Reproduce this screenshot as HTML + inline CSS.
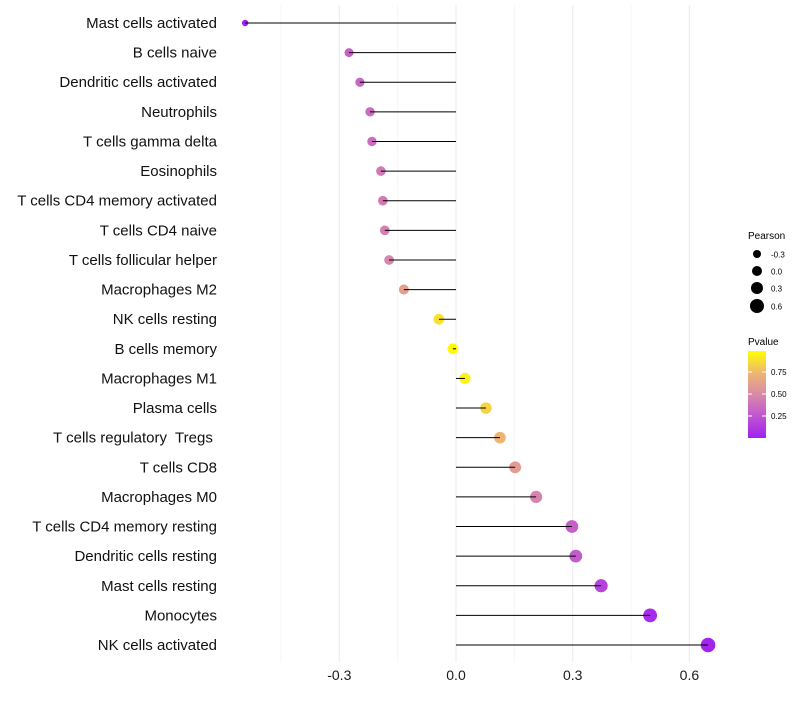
<!DOCTYPE html>
<html><head><meta charset="utf-8"><style>body{margin:0;background:#fff}svg{font-family:"Liberation Sans",sans-serif}</style></head>
<body>
<svg id="chart" width="800" height="700" xmlns="http://www.w3.org/2000/svg">
<defs><linearGradient id="pg" x1="0" y1="1" x2="0" y2="0">
<stop offset="0" stop-color="#a020f0"/><stop offset="0.25" stop-color="#c055d0"/><stop offset="0.5" stop-color="#d98aa8"/><stop offset="0.75" stop-color="#efb672"/><stop offset="1" stop-color="#ffff00"/></linearGradient></defs>
<g id="grid"></g><g id="points"></g><g id="marks"></g><g id="labels"></g>
<g>
<text x="748" y="239" font-size="10">Pearson</text>
<circle cx="757" cy="254" r="4" fill="#000"/><text x="771" y="257.5" font-size="8">-0.3</text>
<circle cx="757" cy="271" r="5" fill="#000"/><text x="771" y="274.5" font-size="8">0.0</text>
<circle cx="757" cy="288" r="6" fill="#000"/><text x="771" y="291.5" font-size="8">0.3</text>
<circle cx="757" cy="306" r="7" fill="#000"/><text x="771" y="309.5" font-size="8">0.6</text>
</g>
<g>
<text x="748" y="345" font-size="10">Pvalue</text>
<rect x="748" y="351" width="18" height="87" fill="url(#pg)"/>
<line x1="748" x2="752" y1="372" y2="372" stroke="#fff"/><line x1="762" x2="766" y1="372" y2="372" stroke="#fff"/>
<line x1="748" x2="752" y1="394" y2="394" stroke="#fff"/><line x1="762" x2="766" y1="394" y2="394" stroke="#fff"/>
<line x1="748" x2="752" y1="416" y2="416" stroke="#fff"/><line x1="762" x2="766" y1="416" y2="416" stroke="#fff"/>
<text x="771" y="375" font-size="8">0.75</text><text x="771" y="397" font-size="8">0.50</text><text x="771" y="419" font-size="8">0.25</text>
</g>
</svg>
<script>
const cells=["Mast cells activated","B cells naive","Dendritic cells activated","Neutrophils","T cells gamma delta","Eosinophils","T cells CD4 memory activated","T cells CD4 naive","T cells follicular helper","Macrophages M2","NK cells resting","B cells memory","Macrophages M1","Plasma cells","T cells regulatory  Tregs ","T cells CD8","Macrophages M0","T cells CD4 memory resting","Dendritic cells resting","Mast cells resting","Monocytes","NK cells activated"];
const pearson=[-0.542,-0.275,-0.247,-0.221,-0.216,-0.193,-0.188,-0.183,-0.172,-0.134,-0.044,-0.008,0.023,0.077,0.113,0.152,0.206,0.298,0.308,0.373,0.499,0.648];
const pvalue=[0.0,0.3,0.33,0.36,0.36,0.42,0.43,0.45,0.48,0.62,0.9,0.99,0.96,0.85,0.74,0.6,0.47,0.3,0.28,0.17,0.05,0.02];
const xticks=[-0.3,0,0.3,0.6];
const xtickLabels=["-0.3","0.0","0.3","0.6"];
const NS="http://www.w3.org/2000/svg";
const X=v=>456+v*389;
const Y=i=>23+i*(645-23)/(cells.length-1);
const R=v=>Math.sqrt(Math.max(4,30+36*v));
const stops=[[0,[160,32,240]],[0.25,[192,85,208]],[0.5,[217,138,168]],[0.75,[239,182,114]],[1,[255,255,0]]];
function col(p){for(let k=1;k<stops.length;k++){if(p<=stops[k][0]){const a=stops[k-1],b=stops[k],t=(p-a[0])/(b[0]-a[0]);return "rgb("+a[1].map((c,j)=>Math.round(c+(b[1][j]-c)*t)).join(",")+")";}}return "rgb(255,255,0)";}
function mk(t,a,parent){const e=document.createElementNS(NS,t);for(const k in a)e.setAttribute(k,a[k]);document.getElementById(parent).appendChild(e);return e;}
[-0.45,-0.15,0.15,0.45].forEach(v=>{const l=mk("line",{x1:X(v),x2:X(v),y1:5,y2:662,stroke:"#f2f2f2","stroke-width":0.6},"grid");

});
xticks.forEach((v,i)=>{const l=mk("line",{x1:X(v),x2:X(v),y1:5,y2:662,stroke:"#ebebeb","stroke-width":1},"grid");


const t=mk("text",{x:X(v),y:680,"font-size":14,"text-anchor":"middle",fill:"#1a1a1a"},"labels");t.textContent=xtickLabels[i];

});
cells.forEach((c,i)=>{const y=Y(i);
const p=mk("circle",{cx:X(pearson[i]),cy:y,r:R(pearson[i]),fill:col(pvalue[i])},"points");


const l=mk("line",{x1:X(0),x2:X(pearson[i]),y1:y,y2:y,stroke:"#000","stroke-width":1},"marks");


const t=mk("text",{x:217,y:y+5,"font-size":15,"text-anchor":"end",fill:"#111",style:"white-space:pre"},"labels");t.textContent=c;

});
</script>
</body></html>
